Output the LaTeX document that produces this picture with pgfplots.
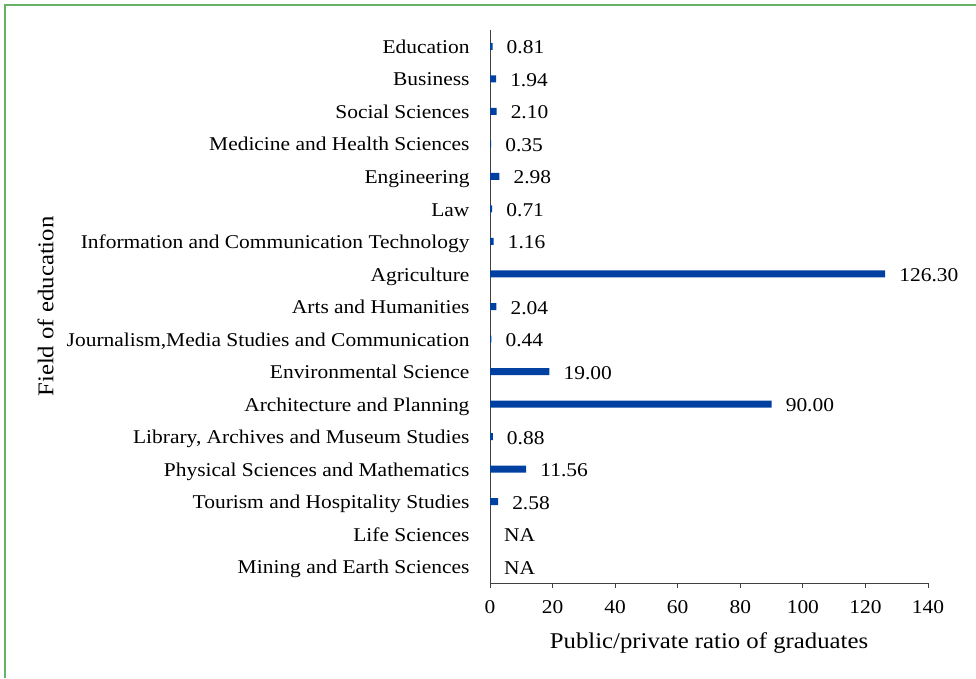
\documentclass[border=0pt]{standalone}
\usepackage{pgfplots}
\pgfplotsset{compat=1.18}
\usepackage{fontspec}
\setmainfont[FakeStretch=1.1]{Liberation Serif}
\definecolor{barblue}{RGB}{0,64,160}
\definecolor{framegreen}{RGB}{102,178,102}
\begin{document}
\begin{tikzpicture}[font=\fontsize{19.5pt}{23pt}\selectfont]
\path[use as bounding box] (0,0) rectangle (976pt,678pt);
\draw[framegreen, line width=1.5pt] (5pt,0) -- (5pt,673pt) -- (976pt,673pt);
\begin{axis}[
    at={(490pt,95pt)}, anchor=south west,
    scale only axis,
    width=438pt, height=553pt,
    xbar, bar width=7pt,
    xmin=0, xmax=140,
    ymin=-0.5, ymax=16.5,
    xtick={0,20,...,140},
    ytick={0,...,16},
    yticklabels={Mining and Earth Sciences, Life Sciences, Tourism and Hospitality Studies,
        Physical Sciences and Mathematics, {Library, Archives and Museum Studies},
        Architecture and Planning, Environmental Science,
        {Journalism,Media Studies and Communication}, Arts and Humanities, Agriculture,
        Information and Communication Technology, Law, Engineering,
        Medicine and Health Sciences, Social Sciences, Business, Education},
    axis x line*=bottom, axis y line*=left,
    axis line style={black!75, line width=1pt, -},
    xtick align=outside,
    major tick length=5pt,
    x tick style={black!75, line width=1pt},
    y tick style={draw=none},
    /pgf/number format/assume math mode=true,
    typeset ticklabels with strut,
    xticklabel style={yshift=-6pt},
    yticklabel style={xshift=-12pt, yshift=-2.5pt},
    xlabel={Public/private ratio of graduates},
    xlabel style={at={(axis description cs:0.5,0)}, anchor=center, yshift=-60pt,
        font=\fontsize{22.5pt}{26pt}\selectfont},
    ylabel={Field of education},
    ylabel style={at={(axis description cs:-0.988,0.5)}, anchor=south,
        font=\fontsize{22.5pt}{26pt}\selectfont},
    point meta=explicit symbolic,
    nodes near coords,
    nodes near coords style={anchor=west, inner sep=0pt, xshift=14pt, yshift=-1pt,
        text=black, text height=13pt, text depth=0pt},
]
\addplot[draw=none, fill=barblue] coordinates {
    (0.81,16) [0.81]
    (1.94,15) [1.94]
    (2.10,14) [2.10]
    (0.35,13) [0.35]
    (2.98,12) [2.98]
    (0.71,11) [0.71]
    (1.16,10) [1.16]
    (126.30,9) [126.30]
    (2.04,8) [2.04]
    (0.44,7) [0.44]
    (19.00,6) [19.00]
    (90.00,5) [90.00]
    (0.88,4) [0.88]
    (11.56,3) [11.56]
    (2.58,2) [2.58]
    (0,1) [NA]
    (0,0) [NA]
};
\end{axis}
\end{tikzpicture}
\end{document}
